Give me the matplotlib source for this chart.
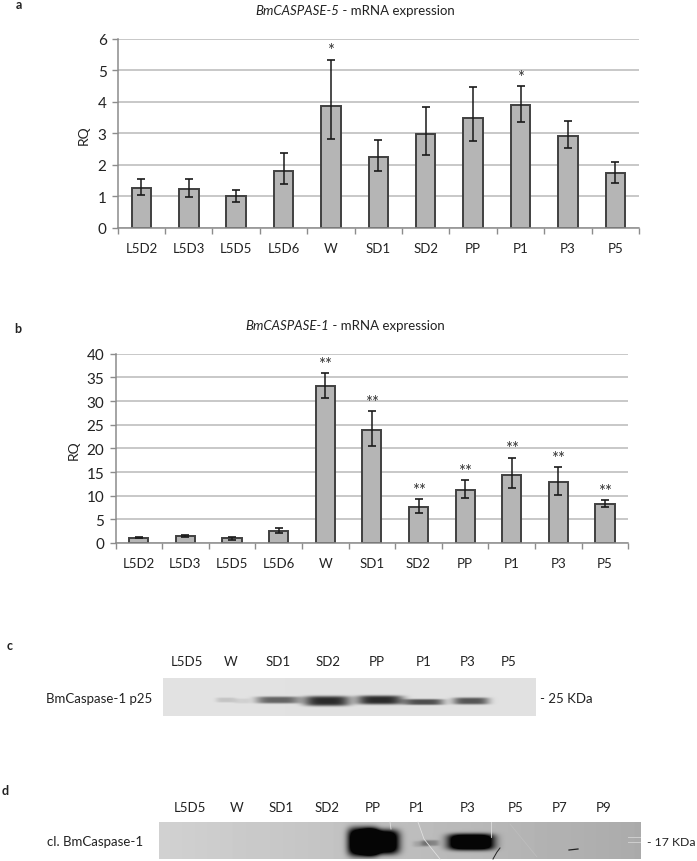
import numpy as np
import matplotlib
matplotlib.use('Agg')
import matplotlib.pyplot as plt

plt.rcParams['font.family'] = ['Lato', 'DejaVu Sans']

W, H = 697, 862

# Panel a
stages = ['L5D2', 'L5D3', 'L5D5', 'L5D6', 'W', 'SD1', 'SD2', 'PP', 'P1', 'P3', 'P5']
a_mean = [1.27, 1.23, 1.00, 1.82, 3.88, 2.25, 2.98, 3.50, 3.90, 2.93, 1.73]
a_high = [1.55, 1.54, 1.22, 2.37, 5.33, 2.78, 3.84, 4.47, 4.49, 3.39, 2.08]
a_low = [1.04, 0.99, 0.82, 1.39, 2.82, 1.81, 2.32, 2.75, 3.37, 2.53, 1.44]
a_stars = ['', '', '', '', '*', '', '', '', '*', '', '']
a_ticks = [0, 1, 2, 3, 4, 5, 6]

# Panel b
b_mean = [1.1, 1.5, 1.0, 2.6, 33.2, 23.9, 7.7, 11.3, 14.4, 12.8, 8.3]
b_high = [1.2, 1.7, 1.3, 3.1, 35.9, 27.8, 9.3, 13.3, 18.0, 16.0, 9.0]
b_low = [1.0, 1.3, 0.7, 2.1, 30.7, 20.5, 6.4, 9.5, 11.6, 10.2, 7.6]
b_stars = ['', '', '', '', '**', '**', '**', '**', '**', '**', '**']
b_ticks = [0, 5, 10, 15, 20, 25, 30, 35, 40]

# Blots: lane labels and bands (x centre, y centre, half width, half height, strength)
c_lanes = ['L5D5', 'W', 'SD1', 'SD2', 'PP', 'P1', 'P3', 'P5']
c_lane_x = [187, 231, 278, 328, 377, 424, 468, 509]
c_bands = [(226, 701, 10, 2.5, 0.12), (242, 702, 8, 2.5, 0.07), (278, 701, 22, 3.5, 0.50),
           (327, 702, 23, 5, 0.72), (380, 701, 23, 4.5, 0.72), (424, 703, 20, 3, 0.58),
           (471, 702, 18, 3.5, 0.55)]
d_lanes = ['L5D5', 'W', 'SD1', 'SD2', 'PP', 'P1', 'P3', 'P5', 'P7', 'P9']
d_lane_x = [190, 237, 281, 327, 373, 417, 468, 516, 560, 604]
d_bands = [(363, 843, 15, 14, 1.2), (380, 843, 19, 12, 1.2), (421, 845, 8, 3, 0.10),
           (430, 844, 9, 3, 0.22), (471, 843, 23, 8, 1.2)]


def bar_panel(box, mean, high, low, stars, ticks, ymax):
    left, top, right, bottom = box
    ax = fig.add_axes([left / W, 1 - bottom / H, (right - left) / W, (bottom - top) / H])
    x = np.arange(len(mean))
    ax.set_axisbelow(True)
    ax.yaxis.grid(True, color='#c4c4c4', lw=1.3)
    ax.bar(x, mean, width=0.41, color='#b5b5b5', edgecolor='#404040', lw=1.4)
    err = [np.array(mean) - np.array(low), np.array(high) - np.array(mean)]
    ax.errorbar(x, mean, yerr=err, fmt='none', ecolor='#1a1a1a', elinewidth=1.1, capsize=3, capthick=1.2)
    for i, s in enumerate(stars):
        if s:
            ax.annotate(s, (x[i], high[i]), xytext=(0, 1), textcoords='offset points',
                        ha='center', va='bottom', fontsize=12, color='#333333')
    ax.set_xlim(-0.5, len(mean) - 0.5)
    ax.set_ylim(0, ymax)
    ax.set_yticks(ticks)
    ax.set_xticks(x)
    ax.set_xticklabels(stages)
    ax.set_xticks(np.arange(len(mean) + 1) - 0.5, minor=True)
    ax.tick_params(axis='x', which='major', length=0, pad=10, labelsize=9.5, colors='#222222')
    ax.tick_params(axis='x', which='minor', length=4, color='#8c8c8c', width=1)
    ax.tick_params(axis='y', length=4, color='#8c8c8c', width=1, labelsize=11, pad=4, labelcolor='#222222')
    for side in ['top', 'right']:
        ax.spines[side].set_visible(False)
    for side in ['left', 'bottom']:
        ax.spines[side].set_color('#8c8c8c')
        ax.spines[side].set_linewidth(1.1)
    return ax


def blot(box, bg_left, bg_right, bands):
    left, top, right, bottom = box
    xx, yy = np.meshgrid(np.arange(left, right) + 0.5, np.arange(top, bottom) + 0.5)
    img = bg_left + (bg_right - bg_left) * (xx - left) / (right - left)
    for xc, yc, hw, hh, s in bands:
        img = img - s * np.exp(-((xx - xc) / hw) ** 4 - ((yy - yc) / hh) ** 4)
    ov.imshow(np.clip(img, 0.02, 1), cmap='gray', vmin=0, vmax=1, extent=(left, right, bottom, top),
              aspect='auto', interpolation='bilinear', zorder=1)


fig = plt.figure(figsize=(W / 100, H / 100), dpi=100)

bar_panel((117.7, 39.7, 639, 229), a_mean, a_high, a_low, a_stars, a_ticks, 6)
bar_panel((115.5, 354.7, 628.3, 544), b_mean, b_high, b_low, b_stars, b_ticks, 40)

# overlay in pixel coordinates for labels and blots
ov = fig.add_axes([0, 0, 1, 1], zorder=5)
ov.patch.set_alpha(0)
ov.axis('off')

blot((163, 679, 536, 717), 0.89, 0.88, c_bands)
blot((159, 823, 641, 860), 0.82, 0.67, d_bands)

# scratches on blot d
ov.plot([510, 537], [825, 858], color='#bdbdbd', lw=0.6, zorder=2)
ov.plot([390, 391], [823, 830], color='#e0e0e0', lw=0.6, zorder=2)
ov.plot([418, 424, 440], [823, 840, 860], color='#e0e0e0', lw=0.6, zorder=2)
ov.plot([491, 491], [823, 838], color='#dddddd', lw=0.6, zorder=2)
ov.plot([500, 497, 493], [849, 853, 860], color='#222222', lw=0.7, zorder=2)
ov.plot([569, 578], [851, 850], color='#222222', lw=0.9, zorder=2)
ov.plot([628, 640], [838, 838], color='#cfcfcf', lw=0.7, zorder=2)
ov.plot([628, 640], [843, 843], color='#cfcfcf', lw=0.7, zorder=2)

ov.set_xlim(0, W)
ov.set_ylim(H, 0)

txt = dict(color='#222222', va='center')
ov.text(19, 5, 'a', fontsize=9, fontweight='bold', ha='center', **txt)
ov.text(18, 329, 'b', fontsize=9, fontweight='bold', ha='center', **txt)
ov.text(10, 646, 'c', fontsize=9, fontweight='bold', ha='center', **txt)
ov.text(5, 791, 'd', fontsize=9, fontweight='bold', ha='center', **txt)

ov.text(339, 11, 'BmCASPASE-5', style='italic', fontsize=9.5, ha='right', **txt)
ov.text(339, 11, ' - mRNA expression', fontsize=9.5, ha='left', **txt)
ov.text(329, 326, 'BmCASPASE-1', style='italic', fontsize=9.5, ha='right', **txt)
ov.text(329, 326, ' - mRNA expression', fontsize=9.5, ha='left', **txt)

ov.text(84, 135, 'RQ', fontsize=10, rotation=90, ha='center', **txt)
ov.text(74, 450, 'RQ', fontsize=10, rotation=90, ha='center', **txt)

for name, xp in zip(c_lanes, c_lane_x):
    ov.text(xp, 662, name, fontsize=9.5, ha='center', **txt)
for name, xp in zip(d_lanes, d_lane_x):
    ov.text(xp, 808, name, fontsize=9.5, ha='center', **txt)

ov.text(152, 699, 'BmCaspase-1 p25', fontsize=9.5, ha='right', **txt)
ov.text(540, 699, '- 25 KDa', fontsize=9.5, ha='left', **txt)
ov.text(143, 842, 'cl. BmCaspase-1', fontsize=9.5, ha='right', **txt)
ov.text(647, 843, '- 17 KDa', fontsize=8.8, ha='left', **txt)

fig.savefig('out.png', dpi=100)
